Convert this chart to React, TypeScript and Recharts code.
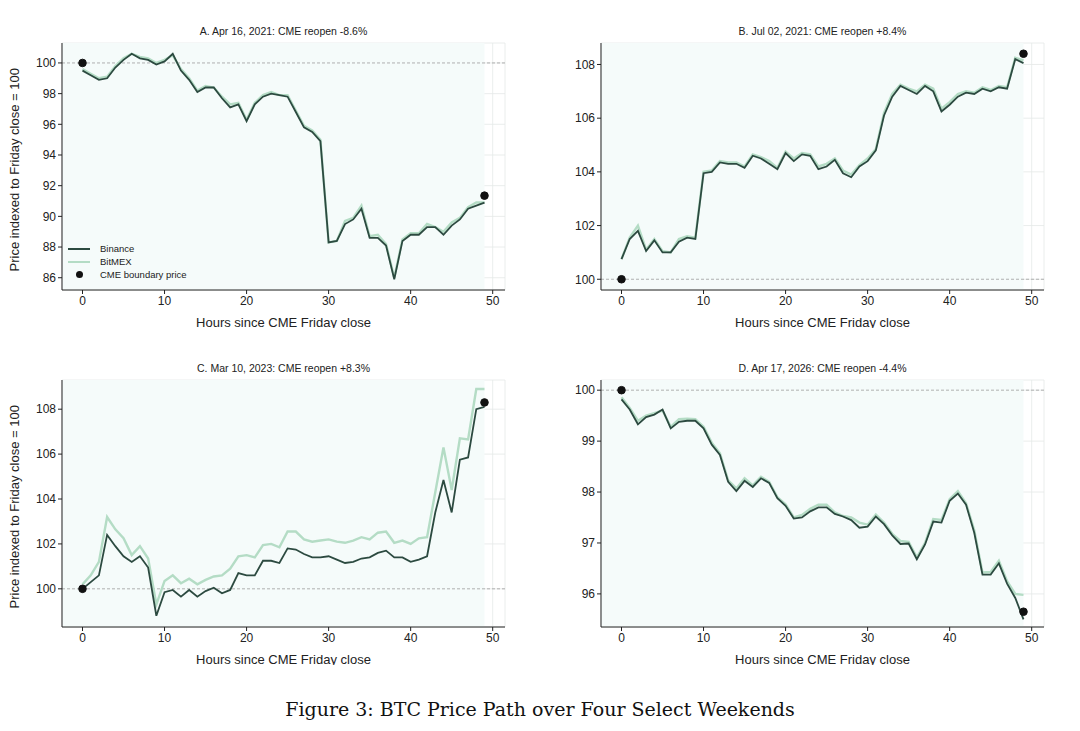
import React from 'react';
import { LineChart, Line, XAxis, YAxis, CartesianGrid, ReferenceLine, ReferenceArea } from 'recharts';

const hours = Array.from({ length: 50 }, (_, i) => i);
const xTicks = [0, 10, 20, 30, 40, 50];

const binanceA = [99.5, 99.2, 98.9, 99.0, 99.7, 100.2, 100.6, 100.3, 100.2, 99.9, 100.1, 100.6, 99.5, 98.9, 98.1, 98.4, 98.4, 97.7, 97.1, 97.3, 96.2, 97.3, 97.8, 98.0, 97.9, 97.8, 96.8, 95.8, 95.5, 94.9, 88.3, 88.4, 89.5, 89.8, 90.5, 88.6, 88.6, 88.1, 85.9, 88.4, 88.8, 88.8, 89.3, 89.3, 88.8, 89.4, 89.8, 90.5, 90.7, 90.9];
const bitmexA = [99.6, 99.3, 99.0, 99.1, 99.8, 100.3, 100.6, 100.4, 100.3, 100.0, 100.2, 100.5, 99.6, 99.0, 98.2, 98.5, 98.4, 97.8, 97.3, 97.4, 96.3, 97.4, 97.9, 98.1, 97.9, 97.9, 96.9, 95.9, 95.6, 95.0, 88.3, 88.4, 89.7, 89.9, 90.7, 88.7, 88.8, 88.2, 86.0, 88.5, 88.9, 88.9, 89.5, 89.3, 89.0, 89.6, 89.9, 90.6, 90.9, 90.9];
const cmeA = [100, 91.35];

const binanceB = [100.75, 101.5, 101.8, 101.05, 101.45, 101.0, 101.0, 101.4, 101.55, 101.5, 103.95, 104.0, 104.35, 104.3, 104.3, 104.15, 104.6, 104.5, 104.3, 104.1, 104.7, 104.4, 104.65, 104.6, 104.1, 104.2, 104.45, 103.95, 103.8, 104.2, 104.4, 104.8, 106.1, 106.8, 107.2, 107.05, 106.9, 107.2, 107.0, 106.25, 106.5, 106.8, 106.95, 106.9, 107.1, 107.0, 107.15, 107.1, 108.2, 108.05];
const bitmexB = [100.75, 101.55, 102.0, 101.1, 101.5, 101.05, 101.0, 101.5, 101.6, 101.55, 104.0, 104.05, 104.4, 104.35, 104.35, 104.2, 104.65, 104.55, 104.4, 104.15, 104.75, 104.5, 104.7, 104.65, 104.2, 104.3, 104.5, 104.05, 103.9, 104.25, 104.5, 104.85, 106.2, 106.9, 107.25, 107.1, 107.0, 107.25, 107.1, 106.35, 106.6, 106.9, 107.0, 106.95, 107.15, 107.05, 107.2, 107.15, 108.25, 108.15];
const cmeB = [100, 108.4];

const binanceC = [100.0, 100.3, 100.6, 102.4, 101.9, 101.45, 101.2, 101.45, 100.95, 98.8, 99.85, 99.95, 99.65, 99.95, 99.65, 99.9, 100.05, 99.8, 99.95, 100.7, 100.6, 100.6, 101.25, 101.25, 101.15, 101.8, 101.75, 101.55, 101.4, 101.4, 101.45, 101.3, 101.15, 101.2, 101.35, 101.4, 101.6, 101.7, 101.4, 101.4, 101.2, 101.3, 101.45, 103.4, 104.85, 103.4, 105.75, 105.85, 108.0, 108.1];
const bitmexC = [100.2, 100.6, 101.2, 103.2, 102.65, 102.25, 101.5, 101.9, 101.35, 99.3, 100.35, 100.6, 100.25, 100.45, 100.2, 100.4, 100.55, 100.6, 100.9, 101.45, 101.5, 101.4, 101.95, 102.0, 101.85, 102.55, 102.55, 102.2, 102.1, 102.15, 102.2, 102.1, 102.05, 102.15, 102.3, 102.2, 102.5, 102.55, 102.05, 102.15, 102.0, 102.25, 102.3, 104.3, 106.3, 104.4, 106.7, 106.65, 108.9, 108.9];
const cmeC = [100, 108.3];

const binanceD = [99.82, 99.62, 99.33, 99.47, 99.52, 99.62, 99.25, 99.38, 99.4, 99.4, 99.25, 98.93, 98.73, 98.2, 98.02, 98.22, 98.1, 98.27, 98.18, 97.88, 97.73, 97.48, 97.5, 97.62, 97.7, 97.7, 97.57, 97.52, 97.45, 97.3, 97.32, 97.52, 97.37, 97.15, 96.98, 96.99, 96.68, 96.97, 97.42, 97.4, 97.83, 97.97, 97.75, 97.2, 96.38, 96.38, 96.6, 96.2, 95.92, 95.5];
const bitmexD = [99.86, 99.65, 99.4, 99.5, 99.55, 99.6, 99.28, 99.43, 99.44, 99.43, 99.28, 98.97, 98.76, 98.23, 98.07, 98.27, 98.13, 98.3, 98.2, 97.9, 97.76, 97.5, 97.55, 97.67, 97.75, 97.75, 97.6, 97.53, 97.5, 97.4, 97.36, 97.56, 97.4, 97.18, 97.04, 97.02, 96.72, 97.0, 97.47, 97.45, 97.86, 98.02, 97.78, 97.25, 96.42, 96.43, 96.65, 96.25, 96.0, 95.98];
const cmeD = [100, 95.65];

const font = '"Liberation Sans", Arial, sans-serif';
const DARK = '#2c4a40';
const LIGHT = '#b4dcc5';

function build(binance: number[], bitmex: number[], cme: number[]) {
  return hours.map((h, i) => ({
    h,
    binance: binance[i],
    bitmex: bitmex[i],
    cme: i === 0 ? cme[0] : i === hours.length - 1 ? cme[1] : null,
  }));
}

type PanelProps = {
  left: number;
  top: number;
  title: string;
  data: any[];
  domain: [number, number];
  yTicks: number[];
  yLabel?: boolean;
};

function Panel({ left, top, title, data, domain, yTicks, yLabel }: PanelProps) {
  return (
    <div style={{ position: 'absolute', left, top, width: 520, height: 293 }}>
      <div style={{ position: 'absolute', left: 62, width: 443, top: -10, textAlign: 'center', fontSize: 10.5, fontFamily: font, color: '#222' }}>{title}</div>
      <LineChart width={520} height={293} data={data} margin={{ top: 8, right: 15, left: 0, bottom: 0 }}>
        <ReferenceArea x1={-2.5} x2={49} y1={domain[0]} y2={domain[1]} fill="#f5fbfa" fillOpacity={1} stroke="none" />
        <CartesianGrid stroke="#e4e9e7" strokeWidth={0.8} />
        <ReferenceLine y={100} stroke="#a8a8a8" strokeDasharray="3 2" strokeWidth={0.9} />
        <XAxis
          type="number"
          dataKey="h"
          domain={[-2.5, 51.5]}
          ticks={xTicks}
          height={38}
          stroke="#222"
          tick={{ fill: '#222', fontSize: 12, fontFamily: font }}
          tickSize={4}
          label={{ value: 'Hours since CME Friday close', position: 'insideBottom', offset: 1, fill: '#222', fontSize: 13, fontFamily: font }}
        />
        <YAxis
          type="number"
          domain={domain}
          ticks={yTicks}
          width={62}
          stroke="#222"
          tick={{ fill: '#222', fontSize: 12, fontFamily: font }}
          tickSize={4}
          label={yLabel ? { value: 'Price indexed to Friday close = 100', angle: -90, position: 'insideLeft', offset: 14, dy: 105, fill: '#222', fontSize: 13, fontFamily: font } : undefined}
        />
        <Line dataKey="bitmex" stroke={LIGHT} strokeWidth={2.4} dot={false} isAnimationActive={false} />
        <Line dataKey="binance" stroke={DARK} strokeWidth={1.8} dot={false} isAnimationActive={false} />
        <Line dataKey="cme" stroke="none" dot={{ r: 3.8, fill: '#111', stroke: '#111' }} isAnimationActive={false} />
      </LineChart>
    </div>
  );
}

function LegendBox() {
  const row = { display: 'flex', alignItems: 'center', height: 13 } as const;
  return (
    <div style={{ position: 'absolute', left: 68, top: 242, fontSize: 9.5, fontFamily: font, color: '#222' }}>
      <div style={row}><span style={{ width: 22, height: 2, background: DARK, marginRight: 10 }} />Binance</div>
      <div style={row}><span style={{ width: 22, height: 2, background: LIGHT, marginRight: 10 }} />BitMEX</div>
      <div style={row}><span style={{ width: 22, display: 'flex', justifyContent: 'center', marginRight: 10 }}><span style={{ width: 7, height: 7, borderRadius: 4, background: '#111' }} /></span>CME boundary price</div>
    </div>
  );
}

export default function App() {
  return (
    <div style={{ position: 'absolute', left: 0, top: 0, width: 1080, height: 731, background: '#fff' }}>
      <Panel left={0} top={35} title="A. Apr 16, 2021: CME reopen -8.6%" data={build(binanceA, bitmexA, cmeA)} domain={[85.2, 101.3]} yTicks={[86, 88, 90, 92, 94, 96, 98, 100]} yLabel />
      <Panel left={539} top={35} title="B. Jul 02, 2021: CME reopen +8.4%" data={build(binanceB, bitmexB, cmeB)} domain={[99.6, 108.8]} yTicks={[100, 102, 104, 106, 108]} />
      <Panel left={0} top={372} title="C. Mar 10, 2023: CME reopen +8.3%" data={build(binanceC, bitmexC, cmeC)} domain={[98.3, 109.3]} yTicks={[100, 102, 104, 106, 108]} yLabel />
      <Panel left={539} top={372} title="D. Apr 17, 2026: CME reopen -4.4%" data={build(binanceD, bitmexD, cmeD)} domain={[95.35, 100.2]} yTicks={[96, 97, 98, 99, 100]} />
      <LegendBox />
      <div style={{ position: 'absolute', left: 0, width: 1080, top: 698, textAlign: 'center', fontFamily: '"DejaVu Serif", "Liberation Serif", serif', fontSize: 19, color: '#111' }}>
        Figure 3: BTC Price Path over Four Select Weekends
      </div>
    </div>
  );
}
